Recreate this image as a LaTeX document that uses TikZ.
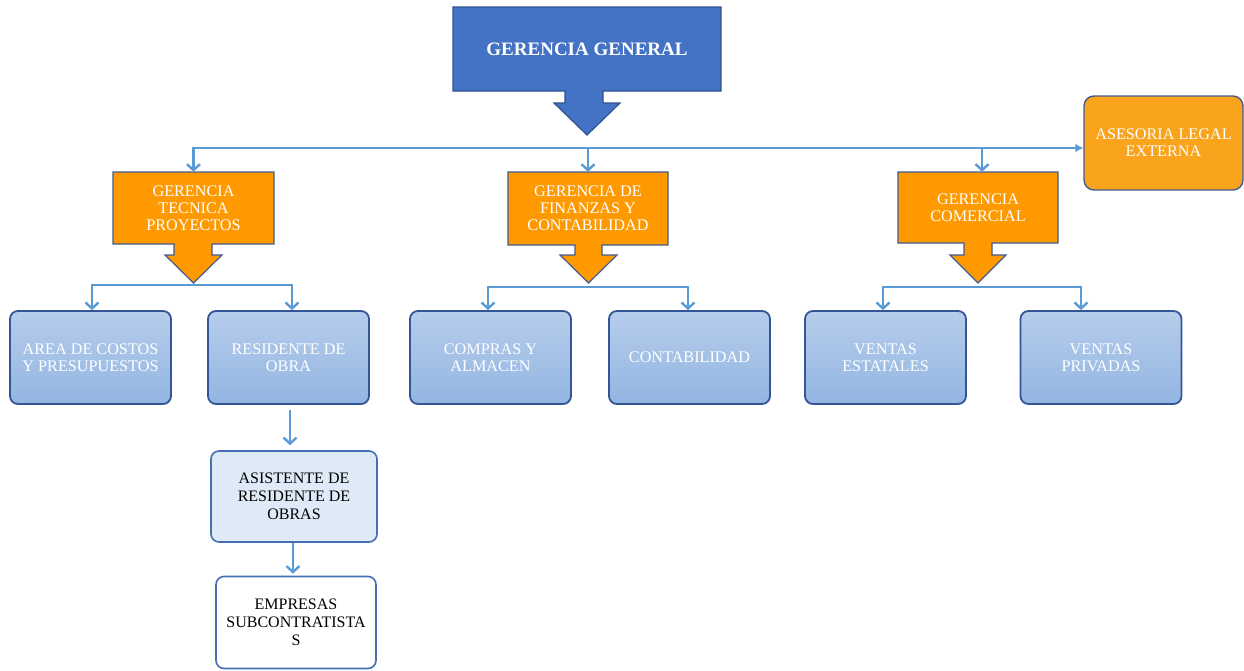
\documentclass[tikz,border=0pt]{standalone}
\usepackage{fontspec}
\setmainfont{Liberation Serif}
\usetikzlibrary{arrows.meta}
\definecolor{ggblue}{RGB}{68,114,196}
\definecolor{ggedge}{RGB}{47,82,143}
\definecolor{orng}{RGB}{255,153,0}
\definecolor{orng2}{RGB}{250,163,28}
\definecolor{oedge}{RGB}{66,92,146}
\definecolor{wirec}{RGB}{91,155,213}
\definecolor{btop}{RGB}{182,205,235}
\definecolor{bbot}{RGB}{147,181,226}
\definecolor{bedge}{RGB}{52,86,150}
\definecolor{lblue}{RGB}{222,234,247}
\definecolor{ledge}{RGB}{70,110,180}
\tikzset{
  txt/.style={font=\fontsize{16.2}{17}\selectfont, align=center, inner sep=0pt},
  ggshape/.style={fill=ggblue, draw=ggedge, line width=1.2pt, line join=miter},
  orshape/.style={fill=orng, draw=oedge, line width=1.2pt, line join=miter},
  calltext/.style={txt, text=white},
  bluebox/.style={txt, text=white, rounded corners=8pt, draw=bedge, line width=1.8pt,
    top color=btop, bottom color=bbot, minimum width=161pt, minimum height=93pt},
  lightbox/.style={txt, text=black, rounded corners=8pt, draw=ledge, line width=1.6pt,
    font=\fontsize{16}{18}\selectfont},
  asebox/.style={txt, text=white, rounded corners=10pt, draw=oedge, line width=1.4pt,
    fill=orng2, minimum width=159pt, minimum height=94pt},
  wire/.style={draw=wirec, line width=2.4pt},
  barb/.tip={Straight Barb[length=6pt,width=13pt]},
  fat/.tip={Latex[length=8pt,width=9pt]}
}
\begin{document}
\begin{tikzpicture}[x=1pt,y=-1pt]
\useasboundingbox (0,0) rectangle (1244,670);
\fill[white] (0,0) rectangle (1244,670);

% GERENCIA GENERAL
\path[ggshape] (453,7) -- (721,7) -- (721,91) -- (603,91) -- (603,103) -- (620,103)
  -- (587,135) -- (554,103) -- (565,103) -- (565,91) -- (453,91) -- cycle;
\node[txt, text=white, font=\bfseries\fontsize{19}{20}\selectfont,
  minimum width=268pt, minimum height=84pt] (gg) at (587,49) {GERENCIA GENERAL};

% GERENCIA TECNICA
\path[orshape] (113,172) -- (274,172) -- (274,244) -- (212,244) -- (212,255) -- (222,255)
  -- (193.5,283) -- (165,255) -- (174,255) -- (174,244) -- (113,244) -- cycle;
\node[calltext, minimum width=161pt, minimum height=72pt] (tec) at (193.5,208)
  {GERENCIA\\TECNICA\\PROYECTOS};

% GERENCIA FINANZAS
\path[orshape] (508,172) -- (668,172) -- (668,245) -- (602,245) -- (602,255) -- (617,255)
  -- (588.5,283) -- (560,255) -- (575,255) -- (575,245) -- (508,245) -- cycle;
\node[calltext, minimum width=160pt, minimum height=73pt] (fin) at (588,208.5)
  {GERENCIA DE\\FINANZAS Y\\CONTABILIDAD};

% GERENCIA COMERCIAL
\path[orshape] (898,172) -- (1058,172) -- (1058,243) -- (992,243) -- (992,255) -- (1006,255)
  -- (978,283) -- (950,255) -- (964,255) -- (964,243) -- (898,243) -- cycle;
\node[calltext, minimum width=160pt, minimum height=71pt] (com) at (978,207.5)
  {GERENCIA\\COMERCIAL};

% ASESORIA
\node[asebox] (ase) at (1163.5,143) {ASESORIA LEGAL\\EXTERNA};

% second level boxes
\node[bluebox] (cost) at (90.5,357.5) {AREA DE COSTOS\\Y PRESUPUESTOS};
\node[bluebox] (res) at (288.5,357.5) {RESIDENTE DE\\OBRA};
\node[bluebox] (comp) at (490.5,357.5) {COMPRAS Y\\ALMACEN};
\node[bluebox] (cont) at (689.5,357.5) {CONTABILIDAD};
\node[bluebox] (est) at (885.5,357.5) {VENTAS\\ESTATALES};
\node[bluebox] (priv) at (1101,357.5) {VENTAS\\PRIVADAS};

% lower chain
\node[lightbox, fill=lblue, minimum width=166pt, minimum height=91pt] (asis) at (294,496.5)
  {ASISTENTE DE\\RESIDENTE DE\\OBRAS};
\node[lightbox, fill=white, minimum width=160pt, minimum height=92pt] (emp) at (296,622.5)
  {EMPRESAS\\SUBCONTRATISTA\\S};

% connectors
\coordinate (busy) at (0,148);
\draw[wire, fat-barb] (ase.west |- busy) -| (tec.north);
\draw[wire, -barb] (fin.north |- busy) -- (fin.north);
\draw[wire, -barb] ([xshift=4pt]com.north |- busy) -- ([xshift=4pt]com.north);

\draw[wire, barb-barb] ([xshift=1.5pt]cost.north) -- ++(0,-25) -| ([xshift=3.5pt]res.north);
\draw[wire, barb-barb] ([xshift=-2.5pt]comp.north) -- ++(0,-23) -| ([xshift=-1.5pt]cont.north);
\draw[wire, barb-barb] ([xshift=-2.5pt]est.north) -- ++(0,-23) -| ([xshift=-20pt]priv.north);

\draw[wire, -barb, shorten <=5pt, shorten >=5pt] ([xshift=1.5pt]res.south) -- ([xshift=1.5pt]res.south |- asis.north);
\draw[wire, -barb, shorten >=2pt] ([xshift=-1pt]asis.south) -- ([xshift=-1pt]asis.south |- emp.north);
\end{tikzpicture}
\end{document}
